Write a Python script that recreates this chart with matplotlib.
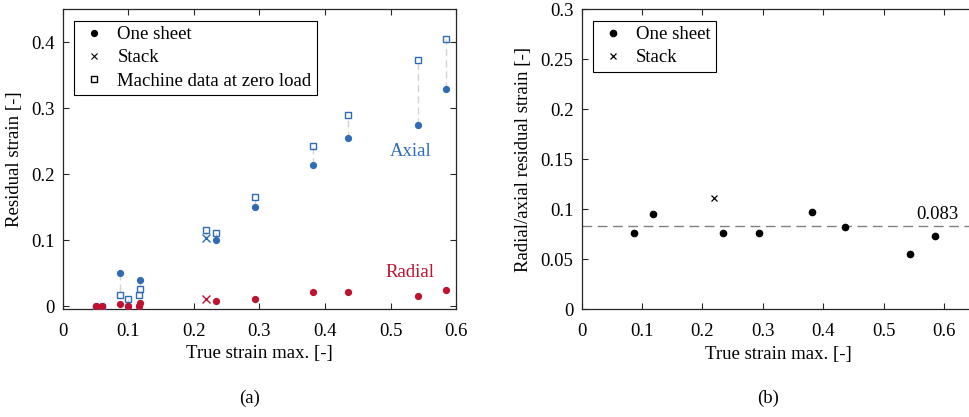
import matplotlib
matplotlib.use("Agg")
import matplotlib.pyplot as plt
from matplotlib.ticker import FormatStrFormatter, MultipleLocator

plt.rcParams.update({
    "font.family": "serif",
    "font.serif": ["Liberation Serif", "DejaVu Serif"],
    "axes.unicode_minus": False,
    "font.size": 13.5,
})

# one sheet specimens
strain_one = [0.050, 0.0595, 0.087, 0.0985, 0.1158, 0.118, 0.233, 0.293, 0.381, 0.4355, 0.542, 0.584]
axial_one = [0.0, 0.0, 0.050, 0.0, 0.0, 0.039, 0.100, 0.1495, 0.2146, 0.2545, 0.2747, 0.329]
radial_one = [0.0, 0.0, 0.0035, 0.0, 0.0, 0.004, 0.0076, 0.0111, 0.0207, 0.0207, 0.0152, 0.0242]
machine_one = [-0.0035, -0.002, 0.016, 0.0106, 0.0167, 0.0253, 0.1106, 0.165, 0.242, 0.289, 0.3727, 0.4045]

# stacked specimen
strain_stack = [0.2185]
axial_stack = [0.103]
radial_stack = [0.011]
machine_stack = [0.116]

# ratio radial/axial
ratio_strain_one = [0.0871, 0.1186, 0.2334, 0.293, 0.381, 0.436, 0.543, 0.5844]
ratio_one = [0.0763, 0.095, 0.0763, 0.0763, 0.0977, 0.0823, 0.0553, 0.0737]
ratio_strain_stack = [0.219]
ratio_stack = [0.111]
ratio_mean = 0.083

blue = "#2E6DB5"
red = "#C0122E"
grey = "#D3D3D3"

fig = plt.figure(figsize=(9.69, 4.17), dpi=100)
ax1 = fig.add_axes([0.065, 0.259, 0.4056, 0.7187])
ax2 = fig.add_axes([0.6003, 0.2583, 0.405, 0.7194])

leg_kw = dict(loc="upper left", fancybox=False, edgecolor="k", framealpha=1,
              borderaxespad=0.6, handletextpad=0.5, labelspacing=0.32,
              borderpad=0.3, handlelength=1.5)

# ---- (a)
for x, a, m in zip(strain_one + strain_stack, axial_one + axial_stack, machine_one + machine_stack):
    ax1.plot([x, x], [a, m], color=grey, lw=1, ls=(0, (5, 3)), zorder=1)
ax1.plot(strain_one, axial_one, "o", color=blue, ms=4.2, zorder=3)
ax1.plot(strain_one, machine_one, "s", mfc="none", mec=blue, mew=1, ms=5, zorder=3)
ax1.plot(strain_stack, axial_stack, "x", color=blue, ms=5.5, mew=1, zorder=3)
ax1.plot(strain_stack, machine_stack, "s", mfc="none", mec=blue, mew=1, ms=5, zorder=3)
ax1.plot(strain_one, radial_one, "o", color=red, ms=4.2, zorder=4)
ax1.plot(strain_stack, radial_stack, "x", color=red, ms=5.5, mew=1, zorder=4)

ax1.plot([], [], "o", color="k", ms=4.2, label="One sheet")
ax1.plot([], [], "x", color="k", ms=4.5, mew=0.8, label="Stack")
ax1.plot([], [], "s", mfc="none", mec="k", mew=1, ms=5, label="Machine data at zero load")

ax1.text(0.531, 0.234, "Axial", color=blue, ha="center", va="center")
ax1.text(0.529, 0.0505, "Radial", color=red, ha="center", va="center")

ax1.set_xlim(0, 0.6)
ax1.set_ylim(-0.0045, 0.45)
ax1.xaxis.set_major_locator(MultipleLocator(0.1))
ax1.yaxis.set_major_locator(MultipleLocator(0.1))
ax1.xaxis.set_major_formatter(FormatStrFormatter("%g"))
ax1.yaxis.set_major_formatter(FormatStrFormatter("%g"))
ax1.set_xlabel("True strain max. [-]", labelpad=4)
ax1.set_ylabel("Residual strain [-]", labelpad=6)
leg1 = ax1.legend(**leg_kw)
leg1.get_frame().set_linewidth(0.8)

# ---- (b)
ax2.axhline(ratio_mean, color="#808080", lw=1, ls=(0, (7, 4)), zorder=1)
ax2.text(0.589, ratio_mean + 0.003, "0.083", ha="center", va="bottom")
ax2.plot(ratio_strain_one, ratio_one, "o", color="k", ms=4.5, label="One sheet", zorder=3)
ax2.plot(ratio_strain_stack, ratio_stack, "x", color="k", ms=5, mew=0.9, label="Stack", zorder=3)
ax2.set_xlim(0, 0.65)
ax2.set_ylim(0, 0.3)
ax2.xaxis.set_major_locator(MultipleLocator(0.1))
ax2.yaxis.set_major_locator(MultipleLocator(0.05))
ax2.xaxis.set_major_formatter(FormatStrFormatter("%g"))
ax2.yaxis.set_major_formatter(FormatStrFormatter("%g"))
ax2.set_xlabel("True strain max. [-]", labelpad=4)
ax2.set_ylabel("Radial/axial residual strain [-]", labelpad=6)
leg2 = ax2.legend(**leg_kw)
leg2.get_frame().set_linewidth(0.8)

for ax in (ax1, ax2):
    ax.tick_params(direction="in", top=True, right=True, length=4, width=0.8,
                   colors="#262626", labelcolor="k")
    ax.tick_params(axis="x", pad=10)
    ax.tick_params(axis="y", pad=6)
    for s in ax.spines.values():
        s.set_linewidth(0.9)
        s.set_color("#262626")
ax2.tick_params(axis="y", right=False)

fig.text(0.258, 0.045, "(a)", ha="center", va="center")
fig.text(0.793, 0.045, "(b)", ha="center", va="center")

fig.savefig("out.png", dpi=100)
